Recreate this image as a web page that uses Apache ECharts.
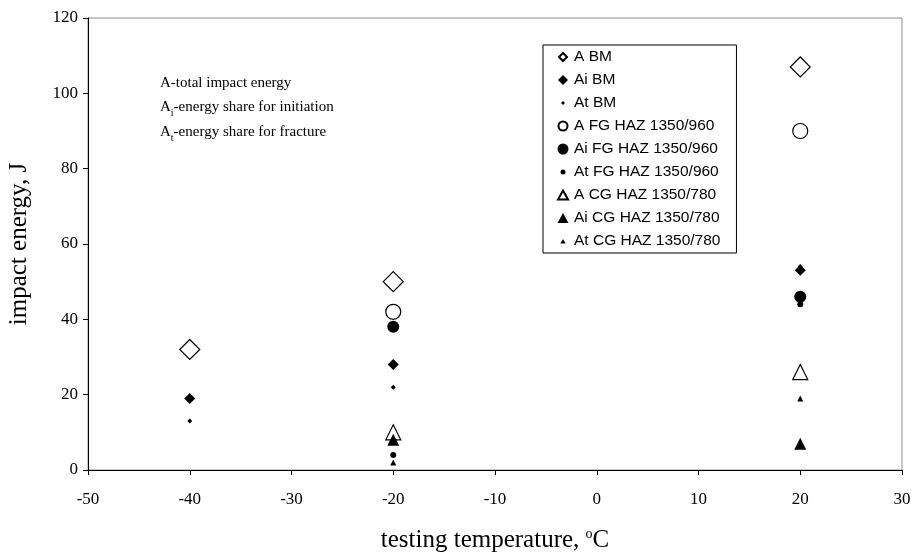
<!DOCTYPE html>
<html>
<head>
<meta charset="utf-8">
<script src="https://cdn.jsdelivr.net/npm/echarts@6/dist/echarts.min.js"></script>
<style>
html,body{margin:0;padding:0;background:#fff;}
#chart{width:915px;height:552px;}
</style>
</head>
<body>
<div id="chart"></div>
<script>
// Data: [temperature °C, impact energy J]
const A_BM   = [[-40, 32], [-20, 50], [20, 107]];
const Ai_BM  = [[-40, 19], [-20, 28], [20, 53]];
const At_BM  = [[-40, 13], [-20, 22], [20, 54]];
const A_FG   = [[-20, 42], [20, 90]];
const Ai_FG  = [[-20, 38], [20, 46]];
const At_FG  = [[-20, 4],  [20, 44]];
const A_CG   = [[-20, 10], [20, 26]];
const Ai_CG  = [[-20, 8],  [20, 7]];
const At_CG  = [[-20, 2],  [20, 19]];

const seriesNames = ['A BM','Ai BM','At BM','A FG HAZ 1350/960','Ai FG HAZ 1350/960','At FG HAZ 1350/960','A CG HAZ 1350/780','Ai CG HAZ 1350/780','At CG HAZ 1350/780'];
const seriesData = [A_BM, Ai_BM, At_BM, A_FG, Ai_FG, At_FG, A_CG, Ai_CG, At_CG];
const xTicks = {min: -50, max: 30, interval: 10};
const yTicks = {min: 0, max: 120, interval: 20};

const styles = [
  {symbol:'diamond', size:20, hollow:true},
  {symbol:'diamond', size:11, hollow:false},
  {symbol:'diamond', size:5, hollow:false},
  {symbol:'circle', size:15, hollow:true},
  {symbol:'circle', size:12, hollow:false},
  {symbol:'circle', size:6, hollow:false},
  {symbol:'triangle', size:15, hollow:true},
  {symbol:'triangle', size:12, hollow:false},
  {symbol:'triangle', size:6, hollow:false}
];

// legend icons (12x12 box, padded with invisible extent points)
const box = 'path://M0,0M12,12';
const legendIcons = [
  box + 'M6,2L10,6L6,10L2,6Z',
  box + 'M6,1L11,6L6,11L1,6Z',
  box + 'M6,4L8,6L6,8L4,6Z',
  box + 'M1.5,6A4.5,4.5,0,1,1,10.5,6A4.5,4.5,0,1,1,1.5,6Z',
  box + 'M0.5,6A5.5,5.5,0,1,1,11.5,6A5.5,5.5,0,1,1,0.5,6Z',
  box + 'M3.5,6A2.5,2.5,0,1,1,8.5,6A2.5,2.5,0,1,1,3.5,6Z',
  box + 'M6,1.5L11,10.5L1,10.5Z',
  box + 'M6,1L11.5,11L0.5,11Z',
  box + 'M6,4L8.6,8.5L3.4,8.5Z'
];

const serif = '"Liberation Serif","Times New Roman",serif';
const sans = '"Liberation Sans",Arial,sans-serif';

const chart = echarts.init(document.getElementById('chart'), null, {renderer:'canvas'});
const series = seriesNames.map((n, i) => ({
  name: n,
  type: 'scatter',
  data: seriesData[i],
  symbol: styles[i].symbol,
  symbolSize: styles[i].size,
  itemStyle: styles[i].hollow
    ? {color:'#fff', borderColor:'#000', borderWidth:1.2, opacity:1}
    : {color:'#000', borderColor:'#000', borderWidth:0, opacity:1},
  emphasis: {disabled: true},
  z: 3
}));

chart.setOption({
  animation: false,
  backgroundColor: '#fff',
  grid: {left: 88, right: 13, top: 18, bottom: 82, containLabel: false, outerBoundsMode: 'none',
         show: true, borderColor: '#8c8c8c', borderWidth: 1},
  xAxis: {
    type: 'value', min: xTicks.min, max: xTicks.max, interval: xTicks.interval,
    splitLine: {show: false},
    axisLine: {onZero: false, lineStyle: {color: '#000', width: 1}},
    axisTick: {show: true, length: 5, lineStyle: {color: '#000'}},
    axisLabel: {color: '#000', fontFamily: serif, fontSize: 17, margin: 21},
    name: 'testing temperature, {sup|o}C',
    nameLocation: 'middle', nameGap: 57,
    nameTextStyle: {color: '#000', fontFamily: serif, fontSize: 25,
      rich: {sup: {fontFamily: serif, fontSize: 14, color: '#000', verticalAlign: 'top', padding:[0,0,12,0]}}}
  },
  yAxis: {
    type: 'value', min: yTicks.min, max: yTicks.max, interval: yTicks.interval,
    splitLine: {show: false},
    axisLine: {show: true, onZero: false, lineStyle: {color: '#000', width: 1}},
    axisTick: {show: true, length: 5, lineStyle: {color: '#000'}},
    axisLabel: {color: '#000', fontFamily: serif, fontSize: 17, margin: 10},
    name: 'impact energy, J',
    nameLocation: 'middle', nameGap: 56,
    nameTextStyle: {color: '#000', fontFamily: serif, fontSize: 25}
  },
  legend: {
    orient: 'vertical', left: 543, top: 45,
    data: seriesNames.map((n, i) => ({name: n, icon: legendIcons[i]})),
    itemWidth: 12, itemHeight: 12, itemGap: 7,
    padding: [4, 16, 4, 13],
    borderColor: '#000', borderWidth: 1, backgroundColor: '#fff',
    textStyle: {color: '#000', fontFamily: sans, fontSize: 15.5, lineHeight: 15},
    selectedMode: false
  },
  graphic: [
    {type: 'text', left: 160, top: 76, z: 10,
     style: {text: 'A-total impact energy', font: '15px ' + serif, fill: '#000'}},
    {type: 'text', left: 160, top: 100, z: 10,
     style: {text: '{m|A}{s|i}{m|-energy share for initiation}', fill: '#000',
       rich: {m: {font: '15px ' + serif, fill:'#000', verticalAlign:'bottom'}, s: {font: '10px ' + serif, fill:'#000', verticalAlign:'bottom', padding:[0,0,-3,0]}}}},
    {type: 'text', left: 160, top: 125, z: 10,
     style: {text: '{m|A}{s|t}{m|-energy share for fracture}', fill: '#000',
       rich: {m: {font: '15px ' + serif, fill:'#000', verticalAlign:'bottom'}, s: {font: '10px ' + serif, fill:'#000', verticalAlign:'bottom', padding:[0,0,-3,0]}}}}
  ],
  series: series
});
</script>
</body>
</html>
